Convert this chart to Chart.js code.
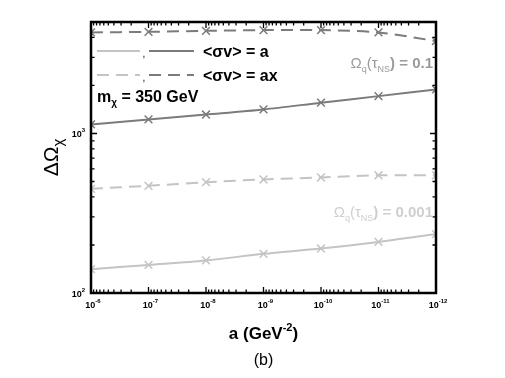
<!DOCTYPE html>
<html>
<head>
<meta charset="utf-8">
<script src="https://cdn.jsdelivr.net/npm/chart.js@4"></script>
<style>
  body { margin: 0; background: #fff; }
</style>
</head>
<body>
<canvas id="chart" width="505" height="378"></canvas>
<script>
// a (GeV^-2), x axis runs from 1e-6 (left) to 1e-12 (right)
const aValues = [1e-6, 1e-7, 1e-8, 1e-9, 1e-10, 1e-11, 1e-12];
// Delta Omega_chi
const omegaA_01 = [1140, 1225, 1315, 1415, 1560, 1715, 1890];
const omegaAx_01 = [4300, 4340, 4400, 4450, 4450, 4300, 3800];
const omegaA_0001 = [141, 150, 160, 176, 190, 209, 234];
const omegaAx_0001 = [450, 470, 495, 515, 530, 547, 547];
// tick exponents
const xTickExp = [-6, -7, -8, -9, -10, -11, -12];
const yTickExp = [2, 3];

const dark = '#7b7b7b';
const light = '#c4c4c4';

function pts(ys) {
    return aValues.map((x, i) => ({ x: x, y: ys[i] }));
}

function series(label, ys, color, dashed) {
    return {
        label: label,
        data: pts(ys),
        borderColor: color,
        backgroundColor: color,
        borderWidth: 2,
        borderDash: dashed ? [12, 7] : [],
        pointStyle: 'crossRot',
        pointRadius: 5.5,
        pointBorderWidth: 1.5,
        tension: 0.3,
        fill: false
    };
}

// draw a list of text runs [{t, size, bold, dy}] starting at x (or centered)
function drawRuns(ctx, runs, x, y, align, color) {
    let w = 0;
    runs.forEach(r => {
        ctx.font = (r.bold ? 'bold ' : '') + r.size + 'px "Liberation Sans", Arial, sans-serif';
        r.w = ctx.measureText(r.t).width;
        w += r.w;
    });
    let cx = x;
    if (align === 'center') cx = x - w / 2;
    if (align === 'right') cx = x - w;
    ctx.fillStyle = color || '#000';
    ctx.textAlign = 'left';
    ctx.textBaseline = 'alphabetic';
    runs.forEach(r => {
        ctx.font = (r.bold ? 'bold ' : '') + r.size + 'px "Liberation Sans", Arial, sans-serif';
        ctx.fillText(r.t, cx, y + (r.dy || 0));
        cx += r.w;
    });
}

function powRuns(e) {
    return [{ t: '10', size: 9, bold: true }, { t: String(e), size: 6, bold: true, dy: -5 }];
}

const framePlugin = {
    id: 'frame',
    afterDraw(chart) {
        const ctx = chart.ctx;
        const area = chart.chartArea;
        const xs = chart.scales.x;
        const ys = chart.scales.y;
        ctx.save();

        // ticks (inward, mirrored)
        ctx.strokeStyle = '#000';
        ctx.lineWidth = 1.3;
        ctx.beginPath();
        xTickExp.forEach(e => {
            for (let k = 1; k <= 9; k++) {
                const v = k * Math.pow(10, e);
                if (v > 1e-6 * 1.0001 || v < 1e-12 * 0.9999) continue;
                const px = xs.getPixelForValue(v);
                const len = k === 1 ? 6 : 3.5;
                ctx.moveTo(px, area.bottom); ctx.lineTo(px, area.bottom - len);
                ctx.moveTo(px, area.top); ctx.lineTo(px, area.top + len);
            }
        });
        yTickExp.forEach(e => {
            for (let k = 1; k <= 9; k++) {
                const v = k * Math.pow(10, e);
                if (v > 5000 * 1.0001) continue;
                const py = ys.getPixelForValue(v);
                const len = k === 1 ? 6 : 3.5;
                ctx.moveTo(area.left, py); ctx.lineTo(area.left + len, py);
                ctx.moveTo(area.right, py); ctx.lineTo(area.right - len, py);
            }
        });
        ctx.stroke();

        // frame
        ctx.lineWidth = 2.5;
        ctx.strokeRect(area.left, area.top, area.right - area.left, area.bottom - area.top);

        // tick labels
        xTickExp.forEach(e => {
            drawRuns(ctx, powRuns(e), xs.getPixelForValue(Math.pow(10, e)) + 2, area.bottom + 15, 'center');
        });
        yTickExp.forEach(e => {
            drawRuns(ctx, powRuns(e), area.left - 6, ys.getPixelForValue(Math.pow(10, e)) + 4, 'right');
        });

        // axis titles
        const midX = (area.left + area.right) / 2;
        drawRuns(ctx, [{ t: 'a (GeV', size: 17, bold: true }, { t: '-2', size: 11, bold: true, dy: -8 }, { t: ')', size: 17, bold: true }],
            midX, 339, 'center');
        drawRuns(ctx, [{ t: '(b)', size: 16 }], midX, 365, 'center');

        ctx.save();
        ctx.translate(58, (area.top + area.bottom) / 2);
        ctx.rotate(-Math.PI / 2);
        drawRuns(ctx, [{ t: '\u0394\u03A9', size: 21 }, { t: '\u03C7', size: 15, dy: 5 }], 0, 0, 'center');
        ctx.restore();

        // legend
        const lx0 = area.left + 6, lx1 = area.left + 49, lx2 = area.left + 58, lx3 = area.left + 103;
        const rows = [{ y: 51, dash: [] }, { y: 75, dash: [12, 7] }];
        rows.forEach(r => {
            ctx.lineWidth = 2;
            ctx.setLineDash(r.dash);
            ctx.strokeStyle = light;
            ctx.beginPath(); ctx.moveTo(lx0, r.y); ctx.lineTo(lx1, r.y); ctx.stroke();
            ctx.strokeStyle = dark;
            ctx.beginPath(); ctx.moveTo(lx2, r.y); ctx.lineTo(lx3, r.y); ctx.stroke();
            ctx.setLineDash([]);
            drawRuns(ctx, [{ t: ',', size: 10 }], lx1 + 4, r.y + 6, 'center');
        });
        drawRuns(ctx, [{ t: '<\u03C3v> = a', size: 16, bold: true }], area.left + 112, 57, 'left');
        drawRuns(ctx, [{ t: '<\u03C3v> = ax', size: 16, bold: true }], area.left + 112, 81, 'left');
        drawRuns(ctx, [{ t: 'm', size: 16, bold: true }, { t: '\u03C7', size: 10, bold: true, dy: 4 }, { t: ' = 350 GeV', size: 16, bold: true }],
            area.left + 6, 102, 'left');

        // curve annotations
        const omegaLabel = val => [
            { t: '\u03A9', size: 15 }, { t: 'q', size: 9, dy: 4 }, { t: '(\u03C4', size: 15 },
            { t: 'NS', size: 9, dy: 4 }, { t: ') = ' + val, size: 15, bold: true }
        ];
        drawRuns(ctx, omegaLabel('0.1'), area.right - 3, 68, 'right', '#9a9a9a');
        drawRuns(ctx, omegaLabel('0.001'), area.right - 3, 217, 'right', '#cfcfcf');

        ctx.restore();
    }
};

new Chart(document.getElementById('chart'), {
    type: 'line',
    data: {
        datasets: [
            series('<σv> = a, Ωq = 0.1', omegaA_01, dark, false),
            series('<σv> = ax, Ωq = 0.1', omegaAx_01, dark, true),
            series('<σv> = a, Ωq = 0.001', omegaA_0001, light, false),
            series('<σv> = ax, Ωq = 0.001', omegaAx_0001, light, true)
        ]
    },
    options: {
        responsive: false,
        animation: false,
        devicePixelRatio: 1,
        layout: { padding: { left: 91, right: 69, top: 22, bottom: 85 } },
        plugins: {
            legend: { display: false },
            tooltip: { enabled: false }
        },
        scales: {
            x: { type: 'logarithmic', reverse: true, min: 1e-12, max: 1e-6, display: false },
            y: { type: 'logarithmic', min: 100, max: 5000, display: false }
        }
    },
    plugins: [framePlugin]
});
</script>
</body>
</html>
